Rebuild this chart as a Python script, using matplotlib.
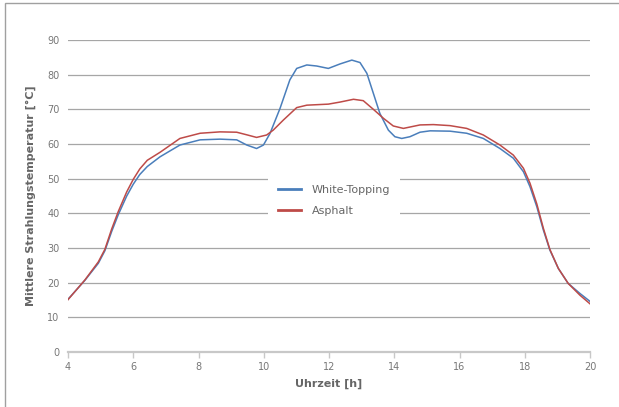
import numpy as np
import matplotlib.pyplot as plt
from matplotlib.patches import Rectangle

# values
hours_wt = [4.0, 4.52, 4.93, 5.13, 5.34, 5.54, 5.8, 6.0, 6.2, 6.43, 6.82, 7.43, 8.05, 8.66, 9.17,
            9.48, 9.78, 9.99, 10.19, 10.5, 10.8, 11.01, 11.32, 11.62, 11.98, 12.34, 12.7, 12.95,
            13.16, 13.36, 13.56, 13.82, 14.02, 14.23, 14.48, 14.79, 15.1, 15.71, 16.22, 16.73,
            17.24, 17.65, 17.96, 18.16, 18.37, 18.57, 18.77, 19.03, 19.33, 19.69, 20.0]
white_topping = [15.2, 20.7, 25.6, 29.2, 34.8, 39.6, 45.0, 48.4, 51.2, 53.5, 56.3, 59.7, 61.2, 61.4, 61.2,
                 59.7, 58.7, 59.7, 63.0, 70.3, 78.5, 81.8, 82.8, 82.5, 81.8, 83.1, 84.2, 83.5,
                 80.4, 74.6, 68.8, 64.0, 62.1, 61.6, 62.1, 63.4, 63.8, 63.7, 63.1, 61.6,
                 58.7, 55.9, 52.0, 47.7, 41.9, 35.2, 29.4, 24.1, 19.8, 16.9, 14.6]

hours_as = [4.0, 4.52, 4.93, 5.13, 5.34, 5.54, 5.8, 6.0, 6.2, 6.43, 6.82, 7.43, 8.05, 8.66, 9.17,
            9.5, 9.78, 10.09, 10.29, 10.6, 11.01, 11.32, 11.98, 12.34, 12.75, 13.05, 13.36,
            13.67, 13.97, 14.28, 14.79, 15.2, 15.71, 16.22, 16.73, 17.24, 17.65, 17.96, 18.16,
            18.37, 18.57, 18.77, 19.03, 19.33, 19.69, 20.0]
asphalt = [15.1, 20.8, 26.0, 29.6, 35.5, 40.5, 46.2, 49.8, 52.8, 55.3, 57.6, 61.6, 63.1, 63.5, 63.4,
           62.6, 61.9, 62.6, 64.0, 66.9, 70.5, 71.2, 71.5, 72.1, 72.9, 72.5, 70.0,
           67.4, 65.2, 64.5, 65.5, 65.6, 65.3, 64.5, 62.6, 59.7, 56.8, 53.0, 48.7,
           42.7, 35.7, 29.6, 24.1, 19.8, 16.4, 13.9]

x_ticks = [4, 6, 8, 10, 12, 14, 16, 18, 20]
y_ticks = [0, 10, 20, 30, 40, 50, 60, 70, 80, 90]

fig = plt.figure(figsize=(6.19, 4.07), dpi=100)
ax = fig.add_axes([68/619, 1-352/407, 522/619, 312/407])

for y in y_ticks[1:]:
    ax.axhline(y, color='#a6a6a6', linewidth=0.9, zorder=1)

ax.plot(hours_wt, white_topping, color='#4a7ebb', linewidth=1.1, label='White-Topping', zorder=3)
ax.plot(hours_as, asphalt, color='#be4b48', linewidth=1.1, label='Asphalt', zorder=3)

ax.set_xlim(4, 20)
ax.set_ylim(0, 90)
ax.set_xticks(x_ticks)
ax.set_yticks(y_ticks)
for s in ['top', 'right', 'left']:
    ax.spines[s].set_visible(False)
ax.spines['bottom'].set_color('#c8c8c8')
ax.spines['bottom'].set_linewidth(1.6)
ax.tick_params(axis='x', colors='#c8c8c8', length=4, width=1, labelcolor='#777777', labelsize=7, pad=3)
ax.tick_params(axis='y', length=0, labelcolor='#777777', labelsize=7, pad=6)

ax.set_xlabel('Uhrzeit [h]', fontsize=8, fontweight='bold', color='#666666', labelpad=5)
ax.set_ylabel('Mittlere Strahlungstemperatur [°C]', fontsize=8, fontweight='bold', color='#666666', labelpad=8)

leg = ax.legend(loc='center', bbox_to_anchor=(0.51, 0.485), frameon=True, fontsize=8,
                handlelength=2.0, handletextpad=1.0, labelspacing=1.0, borderpad=0.9)
leg.get_frame().set_edgecolor('none')
leg.get_frame().set_facecolor('white')
leg.get_frame().set_alpha(1)
for t in leg.get_texts():
    t.set_color('#666666')
for h in leg.get_lines():
    h.set_linewidth(2)

fig.patches.append(Rectangle((5/619, -0.1), 1.2, 1-3/407+0.1, transform=fig.transFigure,
                             fill=False, edgecolor='#a0a0a0', linewidth=1))

fig.savefig('out.png', dpi=100)
